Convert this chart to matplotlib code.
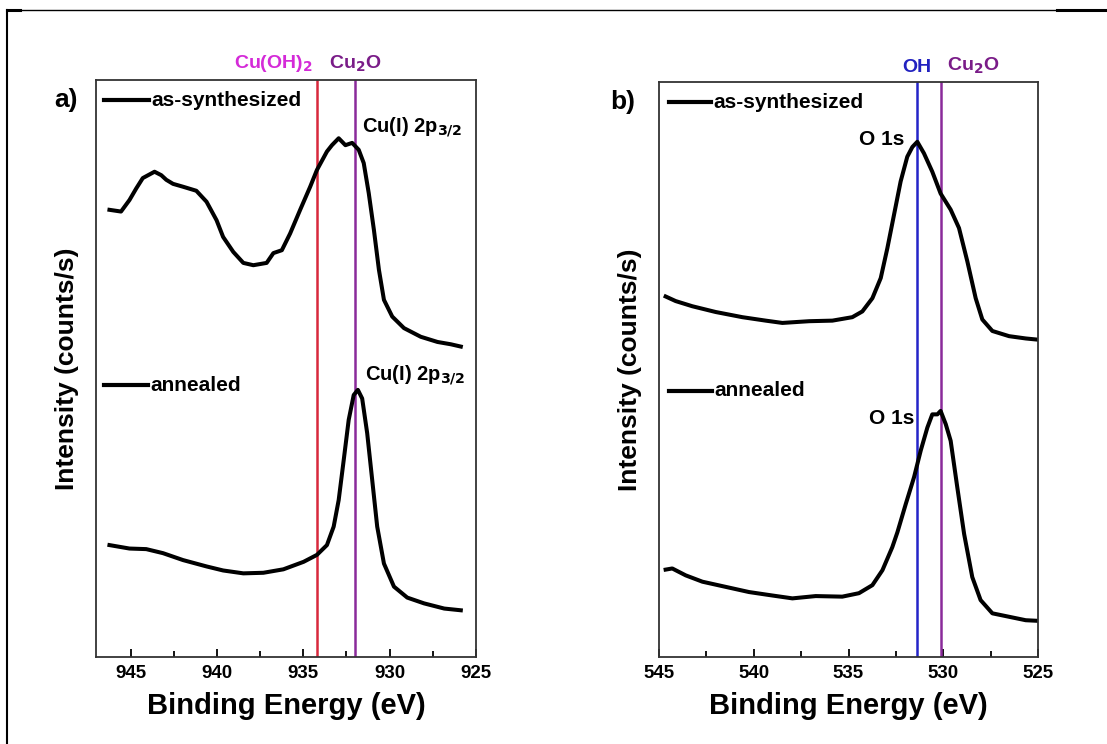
import matplotlib.pyplot as plt
from matplotlib.lines import Line2D
from matplotlib.ticker import MultipleLocator

plt.rcParams['font.family'] = ['Liberation Sans', 'DejaVu Sans']
plt.rcParams['font.weight'] = 'bold'

# Cu 2p spectra
cu_energy_as = [946.22, 945.55, 945.06, 944.67, 944.29, 943.61, 943.22, 942.93, 942.54,
                941.96, 941.19, 940.60, 940.02, 939.64, 939.05, 938.47, 937.89, 937.12,
                936.73, 936.24, 935.76, 935.18, 934.60, 934.21, 933.63, 933.34, 932.95,
                932.56, 932.17, 931.79, 931.50, 931.21, 930.91, 930.62, 930.33, 929.85,
                929.17, 928.20, 927.23, 926.46, 925.88]
cu_int_as = [77.5, 77.2, 79.2, 81.2, 83.0, 84.1, 83.5, 82.7, 82.0,
             81.5, 80.8, 78.9, 75.7, 72.8, 70.2, 68.3, 67.9, 68.3,
             70.0, 70.5, 73.4, 77.5, 81.5, 84.4, 87.6, 88.7, 89.9,
             88.7, 89.1, 87.9, 85.6, 80.4, 74.0, 67.1, 61.9, 59.0,
             57.0, 55.5, 54.6, 54.2, 53.8]

cu_energy_an = [946.22, 945.06, 944.09, 943.12, 941.96, 940.60, 939.64, 938.47, 937.31,
                936.15, 934.98, 934.21, 933.63, 933.24, 932.95, 932.66, 932.37, 932.08,
                931.84, 931.59, 931.30, 931.01, 930.72, 930.33, 929.75, 928.98, 928.01,
                926.84, 925.88]
cu_int_an = [19.4, 18.8, 18.7, 18.0, 16.8, 15.7, 15.0, 14.5, 14.6,
             15.2, 16.5, 17.7, 19.4, 22.6, 27.2, 34.1, 41.1, 45.4,
             46.3, 44.8, 38.8, 30.7, 22.6, 16.2, 12.2, 10.3, 9.3,
             8.4, 8.1]

# O 1s spectra
o_energy_as = [544.65, 544.12, 543.24, 542.01, 540.60, 539.37, 538.49, 537.08, 535.85,
               534.80, 534.27, 533.74, 533.30, 532.95, 532.60, 532.25, 531.90, 531.63,
               531.37, 531.02, 530.58, 530.14, 529.61, 529.17, 528.73, 528.29, 527.94,
               527.41, 526.53, 525.65, 525.04]
o_int_as = [62.7, 61.9, 61.0, 60.0, 59.1, 58.5, 58.1, 58.4, 58.5,
            59.1, 60.1, 62.4, 65.9, 71.1, 76.9, 82.7, 87.0, 88.7,
            89.6, 87.6, 84.4, 80.6, 77.8, 74.6, 68.8, 62.4, 58.7,
            56.7, 55.8, 55.4, 55.2]

o_energy_an = [544.65, 544.30, 543.59, 542.71, 541.48, 540.25, 539.02, 537.96, 536.73,
               535.33, 534.45, 533.74, 533.21, 532.69, 532.42, 531.98, 531.54, 531.19,
               530.84, 530.58, 530.31, 530.14, 529.87, 529.61, 529.26, 528.90, 528.47,
               528.03, 527.41, 526.53, 525.65, 525.04]
o_int_an = [15.2, 15.4, 14.2, 13.1, 12.2, 11.3, 10.7, 10.2, 10.6,
            10.5, 11.1, 12.5, 15.1, 19.1, 21.7, 26.6, 31.3, 35.9,
            39.9, 42.2, 42.2, 42.8, 40.5, 37.6, 29.5, 21.4, 13.9,
            9.9, 7.6, 7.0, 6.4, 6.3]

# reference binding energies (eV)
cu_oh2_ev = 934.2
cu2o_cu_ev = 932.0
oh_ev = 531.4
cu2o_o_ev = 530.1

RED = '#d8283c'
PURPLE = '#8a2a9a'
BLUE = '#2424c8'
MAGENTA_TXT = '#d42ad8'
PURPLE_TXT = '#7a1c88'
BLUE_TXT = '#2222c0'
CU2O = 'Cu$_\\mathbf{2}$O'

fig = plt.figure(figsize=(11.07, 7.44), dpi=100)
ax1 = fig.add_axes([0.0867, 0.1169, 0.3433, 0.7756])
ax2 = fig.add_axes([0.5953, 0.1169, 0.3424, 0.7729])

for ax in (ax1, ax2):
    ax.set_ylim(0, 100)
    ax.set_yticks([])
    for sp in ax.spines.values():
        sp.set_linewidth(1.3)
        sp.set_color('#333333')
    ax.tick_params(axis='x', direction='in', length=6, width=1.3, labelsize=13.5,
                   pad=6, top=False)
    ax.tick_params(axis='x', which='minor', direction='in', length=4, width=1.3)
    ax.xaxis.set_major_locator(MultipleLocator(5))
    ax.xaxis.set_minor_locator(MultipleLocator(2.5))
    for lbl in ax.get_xticklabels():
        lbl.set_fontweight('bold')
    ax.set_xlabel('Binding Energy (eV)', fontsize=21, fontweight='bold', labelpad=7)
    ax.set_ylabel('Intensity (counts/s)', fontsize=19, fontweight='bold', labelpad=12)

# panel a: Cu 2p
ax1.set_xlim(947, 925)
ax1.axvline(cu_oh2_ev, color=RED, lw=1.8)
ax1.axvline(cu2o_cu_ev, color=PURPLE, lw=1.8)
ax1.plot(cu_energy_as, cu_int_as, color='black', lw=2.9)
ax1.plot(cu_energy_an, cu_int_an, color='black', lw=2.9)
ax1.text(cu_oh2_ev + 0.25, 101.0, 'Cu(OH)$_\\mathbf{2}$',
         color=MAGENTA_TXT, fontsize=14, ha='right', va='bottom')
ax1.text(cu2o_cu_ev, 101.0, CU2O, color=PURPLE_TXT, fontsize=14, ha='center', va='bottom')
ax1.text(931.6, 91.0, 'Cu(I) 2p$_{\\mathbf{3/2}}$', fontsize=14.5, ha='left', va='baseline')
ax1.text(931.42, 48.0, 'Cu(I) 2p$_{\\mathbf{3/2}}$', fontsize=14.5, ha='left', va='baseline')
ax1.text(-0.11, 0.965, 'a)', transform=ax1.transAxes, fontsize=19, va='center')

# panel b: O 1s
ax2.set_xlim(545, 525)
ax2.axvline(oh_ev, color=BLUE, lw=1.8)
ax2.axvline(cu2o_o_ev, color=PURPLE, lw=1.8)
ax2.plot(o_energy_as, o_int_as, color='black', lw=2.9)
ax2.plot(o_energy_an, o_int_an, color='black', lw=2.9)
ax2.text(oh_ev, 101.0, 'OH', color=BLUE_TXT, fontsize=14, ha='center', va='bottom')
ax2.text(cu2o_o_ev - 0.3, 101.0, CU2O, color=PURPLE_TXT, fontsize=14, ha='left', va='bottom')
ax2.text(532.05, 90.0, 'O 1s', fontsize=15, ha='right', va='center')
ax2.text(531.55, 41.5, 'O 1s', fontsize=15, ha='right', va='center')
ax2.text(-0.128, 0.965, 'b)', transform=ax2.transAxes, fontsize=19, va='center')

# sample legends
def sample_key(ax, x0, x1, y, label):
    ax.plot([x0, x1], [y, y], transform=ax.transAxes, color='black', lw=3)
    ax.text(x1 + 0.006, y, label, transform=ax.transAxes, fontsize=15, va='center')

sample_key(ax1, 0.02, 0.14, 0.965, 'as-synthesized')
sample_key(ax1, 0.02, 0.137, (657 - 385) / 577, 'annealed')
sample_key(ax2, 0.026, 0.137, 0.965, 'as-synthesized')
sample_key(ax2, 0.026, 0.140, (657 - 390) / 577, 'annealed')

# page frame
W, H = 1107, 744
fig.add_artist(Line2D([7 / W, 7 / W], [0, 1 - 10 / H], color='black', lw=1.5))
fig.add_artist(Line2D([7 / W, 1], [1 - 10 / H, 1 - 10 / H], color='black', lw=1.0))
fig.add_artist(Line2D([7 / W, 20 / W], [1 - 10 / H, 1 - 10 / H], color='black', lw=2.2))
fig.add_artist(Line2D([1057 / W, 1], [1 - 10 / H, 1 - 10 / H], color='black', lw=2.2))

fig.savefig('out.png', dpi=100)
